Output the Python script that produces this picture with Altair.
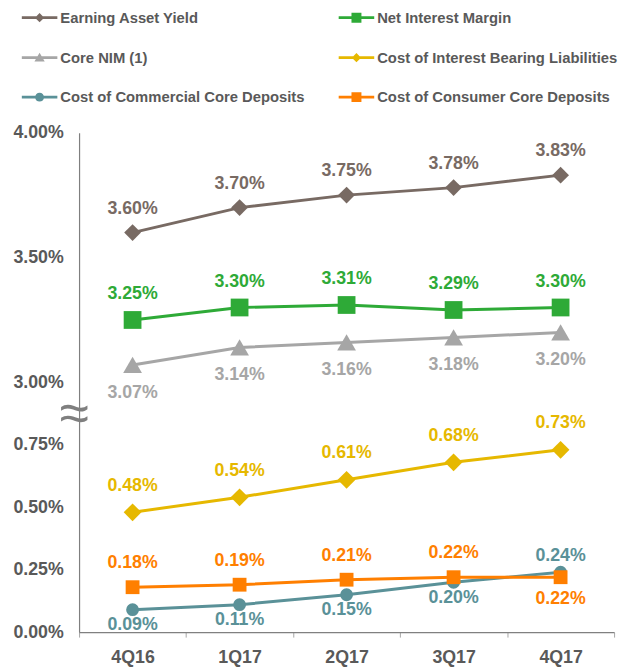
import altair as alt
import pandas as pd

quarters = ["4Q16", "1Q17", "2Q17", "3Q17", "4Q17"]
series = [
    "Earning Asset Yield",
    "Net Interest Margin",
    "Core NIM (1)",
    "Cost of Interest Bearing Liabilities",
    "Cost of Commercial Core Deposits",
    "Cost of Consumer Core Deposits",
]
earning_asset_yield = [3.60, 3.70, 3.75, 3.78, 3.83]
net_interest_margin = [3.25, 3.30, 3.31, 3.29, 3.30]
core_nim = [3.07, 3.14, 3.16, 3.18, 3.20]
cost_ibl = [0.48, 0.54, 0.61, 0.68, 0.73]
cost_commercial = [0.09, 0.11, 0.15, 0.20, 0.24]
cost_consumer = [0.18, 0.19, 0.21, 0.22, 0.22]

# where each value label sits relative to its point
side_earning = ["above"] * 5
side_nim = ["above"] * 5
side_core = ["below"] * 5
side_ibl = ["above"] * 5
side_commercial = ["below", "below", "below", "below", "above"]
side_consumer = ["above", "above", "above", "above", "below"]

colors = ["#786A63", "#2EAA37", "#A6A6A6", "#E6B800", "#5A9198", "#FF7F00"]
shapes = ["diamond", "square", "triangle-up", "diamond", "circle", "square"]
sizes = [290, 324, 361, 324, 170, 196]
dy_above = [-24, -26, -26, -27, -16, -24]
dy_below = [28, 28, 28, 28, 16, 22]

# legend is filled column by column: this order gives the reference's rows
legend_order = [0, 2, 4, 1, 3, 5]

Y_TICKS = [0, 0.25, 0.5, 0.75, 1.0, 1.5, 2.0]
BREAK_SHIFT = 2.0  # values above the axis break are drawn 2 points lower

all_values = [earning_asset_yield, net_interest_margin, core_nim,
              cost_ibl, cost_commercial, cost_consumer]
all_sides = [side_earning, side_nim, side_core, side_ibl,
             side_commercial, side_consumer]

rows = []
for s, vals, sides in zip(series, all_values, all_sides):
    for q, v, sd in zip(quarters, vals, sides):
        rows.append({
            "quarter": q,
            "series": s,
            "value": v,
            "t": v - BREAK_SHIFT if v >= 2.5 else v,
            "label": f"{v:.2f}%",
            "side": sd,
        })
df = pd.DataFrame(rows)

FONT = "Liberation Sans"
TXT = "#595959"

# legend symbols: a line with the marker in the middle (unit square coords)
bar = "M-1,-0.08L1,-0.08L1,0.08L-1,0.08Z"
leg_marks = {
    "diamond": "M-0.26,0L0,-0.26L0.26,0L0,0.26Z",
    "square": "M-0.28,-0.28L0.28,-0.28L0.28,0.28L-0.28,0.28Z",
    "triangle-up": "M0,-0.28L0.29,0.22L-0.29,0.22Z",
    "circle": "M0.25,0A0.25,0.25,0,1,1,-0.25,0A0.25,0.25,0,1,1,0.25,0Z",
}
legend_domain = [series[i] for i in legend_order]
legend_colors = [colors[i] for i in legend_order]
legend_paths = [bar + leg_marks[shapes[i]] for i in legend_order]

x_enc = alt.X(
    "quarter:N",
    sort=quarters,
    bandPosition=0.5,
    scale=alt.Scale(type="band", domain=quarters, paddingInner=0, paddingOuter=0),
    axis=alt.Axis(
        title=None, labelAngle=0, tickBand="extent", tickSize=5,
        tickColor="#A6A6A6", domainColor="#808080", domainWidth=1.2,
        labelFont=FONT, labelFontSize=18, labelFontWeight="bold",
        labelColor=TXT, labelPadding=12,
    ),
)
y_enc = alt.Y(
    "t:Q",
    scale=alt.Scale(domain=[0, 2.0], nice=False, zero=False),
    axis=alt.Axis(
        title=None, values=Y_TICKS, ticks=False, grid=False,
        labelExpr="(datum.value >= 1 ? format(datum.value + 2, '.2f') : format(datum.value, '.2f')) + '%'",
        labelFont=FONT, labelFontSize=18, labelFontWeight="bold",
        labelColor=TXT, labelPadding=16, labelOverlap=False,
        domainColor="#7F7F7F", domainWidth=1.2,
    ),
)

base = alt.Chart(df)
layers = []
for i, s in enumerate(series):
    sub = base.transform_filter(alt.datum.series == s)
    layers.append(
        sub.mark_line(strokeWidth=3, color=colors[i]).encode(x=x_enc, y=y_enc)
    )
    layers.append(
        sub.mark_point(filled=True, opacity=1, shape=shapes[i], size=sizes[i],
                       color=colors[i], strokeWidth=0).encode(x=x_enc, y=y_enc)
    )

for i, s in enumerate(series):
    for sd, dy in (("above", dy_above[i]), ("below", dy_below[i])):
        sub = base.transform_filter(
            (alt.datum.series == s) & (alt.datum.side == sd)
        )
        layers.append(
            sub.mark_text(dy=dy, font=FONT, fontSize=18, fontWeight="bold",
                          color=colors[i], baseline="middle", align="center")
            .encode(x=x_enc, y=y_enc, text="label:N")
        )

# axis break marker
layers.append(
    alt.Chart(pd.DataFrame({"mark": ["≈"]}))
    .mark_text(font=FONT, fontSize=54, color="#7F7F7F", align="center",
               baseline="middle")
    .encode(x=alt.value(-5), y=alt.datum(0.87), text="mark:N")
)

# legend provider (points kept outside the clipped plot area)
legend_props = dict(
    title=None, orient="none", legendX=-59, legendY=-136, columns=2,
    symbolSize=1296, labelFont=FONT, labelFontSize=15,
    labelFontWeight="bold", labelColor=TXT, labelOffset=2, labelLimit=400,
    columnPadding=31, rowPadding=13, symbolOpacity=1, padding=0,
)
layers.append(
    base.mark_point(filled=True, opacity=1, clip=True).encode(
        x=x_enc,
        y=alt.value(-3000),
        color=alt.Color("series:N", sort=legend_domain,
                        scale=alt.Scale(domain=legend_domain, range=legend_colors),
                        legend=alt.Legend(**legend_props)),
        shape=alt.Shape("series:N", sort=legend_domain,
                        scale=alt.Scale(domain=legend_domain, range=legend_paths),
                        legend=alt.Legend(**legend_props)),
    )
)

chart = (
    alt.layer(*layers)
    .properties(
        width=542, height=506,
        autosize=alt.AutoSizeParams(type="none"),
        padding={"left": 72, "top": 122, "right": 7, "bottom": 31},
    )
    .configure_view(stroke=None)
)

chart.save("out.html", embed_options={"renderer": "svg", "actions": False})
